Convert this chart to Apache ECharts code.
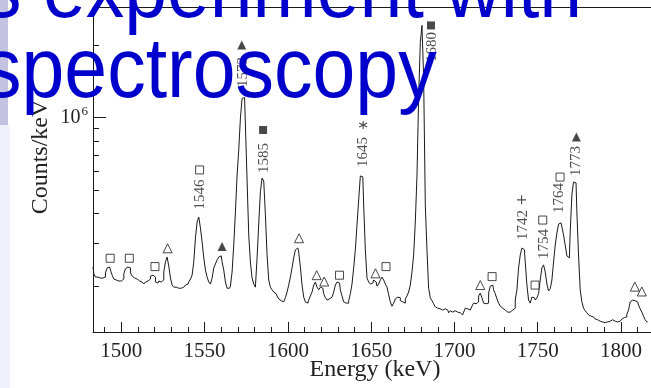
<!DOCTYPE html>
<html><head><meta charset="utf-8">
<script src="https://cdn.jsdelivr.net/npm/echarts@6/dist/echarts.min.js"></script>
<style>html,body{margin:0;padding:0;background:#fff;overflow:hidden}#c{width:651px;height:388px;}</style>
</head><body><div id="c"></div>
<script>
// ---- data ----
const BIN_START = 1483;   // keV, centre of first channel
const BIN_WIDTH = 1;      // keV per channel
const COUNTS = [
240e3,225e3,218e3,218e3,216e3,218e3,216e3,218e3,227e3,238e3,
240e3,233e3,222e3,214e3,212e3,210e3,212e3,210e3,214e3,225e3,
236e3,240e3,238e3,227e3,220e3,216e3,214e3,212e3,210e3,208e3,
206e3,204e3,208e3,210e3,214e3,220e3,222e3,218e3,208e3,206e3,
210e3,208e3,212e3,229e3,252e3,264e3,242e3,216e3,202e3,198e3,
198e3,196e3,198e3,196e3,198e3,200e3,202e3,204e3,208e3,214e3,
222e3,252e3,317e3,369e3,387e3,349e3,305e3,262e3,233e3,218e3,
208e3,204e3,216e3,238e3,247e3,257e3,264e3,267e3,252e3,233e3,
208e3,196e3,196e3,200e3,229e3,296e3,406e3,578e3,734e3,997e3,
1202e3,1214e3,933e3,551e3,326e3,252e3,216e3,204e3,198e3,262e3,
362e3,492e3,562e3,546e3,395e3,269e3,212e3,198e3,193e3,189e3,
186e3,182e3,177e3,174e3,172e3,174e3,179e3,189e3,202e3,218e3,
238e3,262e3,283e3,288e3,277e3,240e3,202e3,180e3,172e3,170e3,
175e3,182e3,189e3,202e3,208e3,198e3,193e3,198e3,196e3,186e3,
179e3,175e3,177e3,180e3,182e3,189e3,202e3,208e3,206e3,193e3,
182e3,172e3,170e3,170e3,174e3,186e3,204e3,238e3,283e3,359e3,
456e3,573e3,568e3,434e3,283e3,216e3,208e3,204e3,206e3,212e3,
208e3,200e3,204e3,212e3,218e3,212e3,204e3,198e3,184e3,172e3,
165e3,170e3,177e3,180e3,179e3,174e3,172e3,170e3,177e3,182e3,
189e3,202e3,229e3,269e3,369e3,573e3,1214e3,2053e3,2415e3,1470e3,
434e3,283e3,196e3,179e3,174e3,169e3,164e3,162e3,161e3,161e3,
159e3,161e3,158e3,159e3,155e3,158e3,156e3,158e3,156e3,156e3,
155e3,153e3,152e3,156e3,162e3,161e3,159e3,159e3,165e3,170e3,
169e3,172e3,182e3,187e3,179e3,170e3,169e3,170e3,187e3,200e3,
202e3,193e3,186e3,177e3,170e3,165e3,162e3,159e3,158e3,156e3,
156e3,158e3,159e3,162e3,175e3,193e3,238e3,269e3,288e3,283e3,
252e3,202e3,175e3,170e3,180e3,179e3,175e3,179e3,186e3,212e3,
238e3,245e3,229e3,204e3,191e3,195e3,212e3,252e3,296e3,332e3,
362e3,366e3,352e3,326e3,296e3,267e3,262e3,336e3,478e3,541e3,
536e3,406e3,269e3,193e3,172e3,162e3,158e3,155e3,152e3,150e3,
149e3,148e3,146e3,145e3,143e3,142e3,142e3,141e3,141e3,142e3,
143e3,145e3,145e3,143e3,143e3,142e3,143e3,145e3,146e3,148e3,
149e3,153e3,159e3,172e3,175e3,174e3,174e3,172e3,167e3,161e3,
156e3,150e3,145e3,142e3
];

const X_MIN = 1483, X_MAX = 1818;
const Y_MIN = 1.29e5, Y_MAX = 2.88e6;
const X_MAJOR_TICKS = [1500, 1550, 1600, 1650, 1700, 1750, 1800];
const X_MINOR_TICKS = [1490, 1510, 1520, 1530, 1540, 1560, 1570, 1580, 1590, 1610, 1620, 1630, 1640,
                       1660, 1670, 1680, 1690, 1710, 1720, 1730, 1740, 1760, 1770, 1780, 1790, 1810];
const Y_MAJOR_TICKS = [1e6];
const Y_MINOR_TICKS = [2e5, 3e5, 4e5, 5e5, 6e5, 7e5, 8e5, 9e5, 2e6];

const PEAK_LABELS   = ['1546', '1573', '1585', '1645', '1680', '1742', '1754', '1764', '1773'];
const PEAK_LABEL_E  = [1547, 1572.9, 1585.6, 1645.0, 1686.3, 1741.1, 1753.6, 1763.1, 1773.0];
const PEAK_LABEL_Y  = [480e3, 1547e3, 681e3, 721e3, 1965e3, 359e3, 299e3, 464e3, 661e3];

const OPEN_SQUARES = [[1493.3, 261e3], [1504.8, 261e3], [1520.2, 241e3], [1547.0, 607e3], [1631.0, 222e3],
                      [1658.9, 241e3], [1722.6, 219e3], [1748.4, 202e3], [1753.0, 376e3], [1763.4, 567e3]];
const FILLED_SQUARES = [[1585.1, 889e3], [1685.9, 2415e3]];
const OPEN_TRIANGLES = [[1527.8, 287e3], [1606.7, 316e3], [1617.3, 222e3], [1621.8, 209e3], [1652.6, 226e3],
                        [1715.5, 202e3], [1808.3, 199e3], [1812.5, 190e3]];
const FILLED_TRIANGLES = [[1560.5, 292e3], [1572.3, 2003e3], [1773.2, 832e3]];
const ASTERISKS = [[1645.2, 933e3]];
const PLUSES = [[1740.3, 456e3]];

// ---- chart ----
const spectrum = COUNTS.map((c, i) => [BIN_START + i * BIN_WIDTH, c]);
const SERIF = '"Liberation Serif", "DejaVu Serif", serif';
const SANS = '"Liberation Sans", Arial, sans-serif';
const INK = '#1a1a1a';
const lg = v => Math.log10(v);

const chart = echarts.init(document.getElementById('c'), null, {renderer: 'canvas'});

function markerSeries(data, symbol, size, filled) {
  return {
    type: 'scatter', xAxisIndex: 0, yAxisIndex: 0, data: data,
    symbol: symbol, symbolSize: size, z: 5, silent: true,
    itemStyle: filled ? {color: INK} : {color: '#fff', borderColor: INK, borderWidth: 1}
  };
}
function strokeSeries(data, symbol, size) {
  return {
    type: 'scatter', xAxisIndex: 0, yAxisIndex: 0, data: data,
    symbol: symbol, symbolSize: size, z: 5, silent: true,
    itemStyle: {color: 'rgba(0,0,0,0)', borderColor: INK, borderWidth: 1.1}
  };
}

const option = {
  animation: false,
  backgroundColor: '#fff',
  grid: {left: 93, top: 7, width: 563, height: 325, show: false},
  xAxis: [
    {type: 'value', min: X_MIN, max: X_MAX, position: 'bottom',
     axisLine: {show: true, lineStyle: {color: INK, width: 1}},
     axisTick: {show: true, inside: true, length: 10, customValues: X_MAJOR_TICKS, lineStyle: {color: INK}},
     axisLabel: {show: true, customValues: X_MAJOR_TICKS, margin: 9, fontFamily: SERIF, fontSize: 21, color: '#222',
                 formatter: v => String(v)},
     splitLine: {show: false}},
    {type: 'value', min: X_MIN, max: X_MAX, position: 'bottom',
     axisLine: {show: false},
     axisTick: {show: true, inside: true, length: 5, customValues: X_MINOR_TICKS, lineStyle: {color: INK}},
     axisLabel: {show: false}, splitLine: {show: false}},
    {type: 'value', min: X_MIN, max: X_MAX, position: 'top',
     axisLine: {show: true, lineStyle: {color: INK, width: 1}},
     axisTick: {show: false}, axisLabel: {show: false}, splitLine: {show: false}}
  ],
  yAxis: [
    {type: 'log', logBase: 10, min: Y_MIN, max: Y_MAX, position: 'left',
     axisLine: {show: true, lineStyle: {color: INK, width: 1}},
     axisTick: {show: false}, axisLabel: {show: false}, splitLine: {show: false}},
    {type: 'value', min: lg(Y_MIN), max: lg(Y_MAX), position: 'left',
     axisLine: {show: false},
     axisTick: {show: true, inside: true, length: 6, customValues: Y_MINOR_TICKS.map(lg), lineStyle: {color: INK}},
     axisLabel: {show: false}, splitLine: {show: false}},
    {type: 'value', min: lg(Y_MIN), max: lg(Y_MAX), position: 'left',
     axisLine: {show: false},
     axisTick: {show: true, inside: true, length: 13, customValues: Y_MAJOR_TICKS.map(lg), lineStyle: {color: INK}},
     axisLabel: {show: true, customValues: Y_MAJOR_TICKS.map(lg), margin: 5,
       formatter: v => '{a|10}{b|' + Math.round(v) + '}',
       rich: {a: {fontFamily: SERIF, fontSize: 20, color: '#222', lineHeight: 20},
              b: {fontFamily: SERIF, fontSize: 13, color: '#222', verticalAlign: 'top', padding: [0, 0, 12, 1]}}},
     splitLine: {show: false}}
  ],
  series: [
    {type: 'line', xAxisIndex: 0, yAxisIndex: 0, data: spectrum, step: 'middle',
     symbol: 'none', silent: true, z: 3,
     lineStyle: {color: INK, width: 1}},
    markerSeries(OPEN_SQUARES, 'rect', 8, false),
    markerSeries(FILLED_SQUARES, 'rect', 8, true),
    markerSeries(OPEN_TRIANGLES, 'triangle', 9, false),
    markerSeries(FILLED_TRIANGLES, 'triangle', 9, true),
    strokeSeries(ASTERISKS, 'path://M5,0V10M0.67,2.5L9.33,7.5M0.67,7.5L9.33,2.5', 8),
    strokeSeries(PLUSES, 'path://M5,0V10M0,5H10', 9),
    {type: 'scatter', xAxisIndex: 0, yAxisIndex: 0, silent: true, z: 6,
     data: PEAK_LABELS.map((t, i) => ({name: t, value: [PEAK_LABEL_E[i], PEAK_LABEL_Y[i]]})),
     symbol: 'circle', symbolSize: 1, itemStyle: {color: 'rgba(0,0,0,0)'},
     label: {show: true, position: 'inside', rotate: 90, formatter: p => p.name,
             fontFamily: SERIF, fontSize: 15, color: '#222'}}
  ],
  graphic: [
    {type: 'rect', z: -10, shape: {x: 0, y: 0, width: 8, height: 125}, style: {fill: '#c3c3e1'}},
    {type: 'rect', z: -10, shape: {x: 0, y: 125, width: 10, height: 263}, style: {fill: '#f1f1fb'}},
    {type: 'text', z: 2, x: 41, y: 157, rotation: Math.PI / 2,
     style: {text: 'Counts/keV', font: '24px ' + SERIF, fill: '#222', align: 'center', verticalAlign: 'middle'}},
    {type: 'text', z: 2, x: 375, y: 370,
     style: {text: 'Energy (keV)', font: '24px ' + SERIF, fill: '#222', align: 'center', verticalAlign: 'middle'}},
    {type: 'text', z: 100, x: -17, y: -6, scaleY: 1.1,
     style: {text: 's experiment with', font: '77px ' + SANS, fill: '#0000cc', align: 'left', verticalAlign: 'middle'}},
    {type: 'text', z: 100, x: -17, y: 74, scaleY: 1.1,
     style: {text: 'spectroscopy', font: '77px ' + SANS, fill: '#0000cc', align: 'left', verticalAlign: 'middle'}}
  ]
};
chart.setOption(option);
</script>
</body></html>
